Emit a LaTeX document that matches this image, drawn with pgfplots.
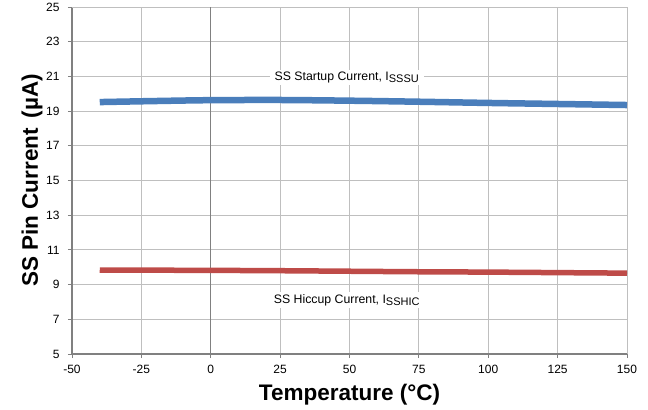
\documentclass[border=0pt]{standalone}
\usepackage{pgfplots}
\pgfplotsset{compat=1.18}
\usepackage{fontspec}
\setmainfont{Liberation Sans}
\definecolor{sblue}{HTML}{4A7EBB}
\definecolor{sred}{HTML}{BE4B48}
\definecolor{gridgray}{HTML}{BFBFBF}
\definecolor{axgray}{HTML}{808080}
\begin{document}
\begin{tikzpicture}
\useasboundingbox (-72bp,-56bp) rectangle (576bp,347bp+7bp);
\begin{axis}[
  scale only axis,
  width=555bp, height=347bp,
  xmin=-50, xmax=150, ymin=5, ymax=25,
  xtick={-50,-25,...,150},
  ytick={5,7,...,25},
  grid=major,
  major grid style={gridgray, line width=0.8bp},
  axis line style={axgray, line width=1.2bp},
  axis x line*=bottom, axis y line*=left,
  tick style={axgray, line width=0.8bp},
  tick align=outside,
  major tick length=4bp,
  /pgf/number format/assume math mode=true,
  tick label style={font=\fontsize{12bp}{14bp}\selectfont},
  xticklabel style={yshift=-4bp},
  yticklabel style={xshift=-5bp},
  xlabel={\textbf{Temperature (°C)}},
  ylabel={\textbf{SS Pin Current\, (µA)}},
  every axis x label/.style={at={(axis description cs:0.5,-0.118)}, anchor=center, font=\fontsize{22.5bp}{24bp}\selectfont},
  every axis y label/.style={at={(axis description cs:-0.072,0.5)}, anchor=center, rotate=90, font=\fontsize{22.5bp}{24bp}\selectfont},
  clip=false,
]
\draw[gridgray, line width=0.8bp] (axis cs:-50,25) -- (axis cs:150,25);
\draw[axgray, line width=1.2bp] (axis cs:0,5) -- (axis cs:0,25);
\addplot[sblue, line width=6.5bp, smooth] coordinates {
(-40,19.52) (-20,19.58) (0,19.63) (25,19.64) (50,19.60) (75,19.54) (100,19.47) (125,19.41) (150,19.35)};
\addplot[sred, line width=5.5bp, smooth] coordinates {
(-40,9.84) (0,9.82) (25,9.80) (50,9.77) (75,9.74) (100,9.72) (125,9.69) (150,9.66)};
\node[fill=white, inner xsep=5bp, inner ysep=2bp, font=\fontsize{12.3bp}{14bp}\selectfont] at (axis cs:49,20.95) {SS Startup Current, I{\raisebox{-2.5bp}{\fontsize{11bp}{12bp}\selectfont SSSU}}};
\node[fill=white, inner xsep=5bp, inner ysep=2bp, font=\fontsize{12.3bp}{14bp}\selectfont] at (axis cs:49,8.1) {SS Hiccup Current, I{\raisebox{-2.5bp}{\fontsize{11bp}{12bp}\selectfont SSHIC}}};
\end{axis}
\end{tikzpicture}
\end{document}
